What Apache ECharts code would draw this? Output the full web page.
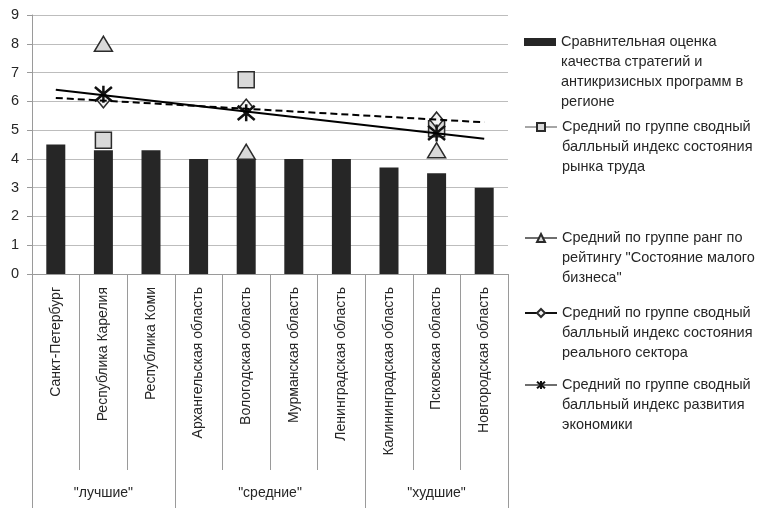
<!DOCTYPE html>
<html>
<head>
<meta charset="utf-8">
<script src="https://cdn.jsdelivr.net/npm/echarts@6/dist/echarts.min.js"></script>
<style>
  html, body { margin: 0; padding: 0; background: #fff; }
  #chart { width: 762px; height: 508px; }
</style>
</head>
<body>
<div id="chart"></div>
<script>
// Regions of the North-West federal district
const categories = [
  'Санкт-Петербург', 'Республика Карелия', 'Республика Коми',
  'Архангельская область', 'Вологодская область', 'Мурманская область',
  'Ленинградская область', 'Калининградская область', 'Псковская область',
  'Новгородская область'
];
const groups = ['"лучшие"', '"средние"', '"худшие"'];
const groupStarts = [0, 3, 7];
const groupCentres = [1.5, 5, 8.5];

const yTicks = [0, 1, 2, 3, 4, 5, 6, 7, 8, 9];

const seriesNames = [
  'Сравнительная оценка качества стратегий и антикризисных программ в регионе',
  'Средний по группе сводный балльный индекс состояния рынка труда',
  'Средний по группе ранг по рейтингу "Состояние малого бизнеса"',
  'Средний по группе сводный балльный индекс состояния реального сектора',
  'Средний по группе сводный балльный индекс развития экономики'
];
const legendLines = [
  ['Сравнительная оценка', 'качества стратегий и', 'антикризисных программ в', 'регионе'],
  ['Средний по группе сводный', 'балльный индекс состояния', 'рынка труда'],
  ['Средний по группе ранг по', 'рейтингу "Состояние малого', 'бизнеса"'],
  ['Средний по группе сводный', 'балльный индекс состояния', 'реального сектора'],
  ['Средний по группе сводный', 'балльный индекс развития', 'экономики']
];

const strategyScore   = [4.5, 4.3, 4.3, 4.0, 4.0, 4.0, 4.0, 3.7, 3.5, 3.0];
const laborIndex      = [null, 4.65, null, null, 6.75, null, null, null, 5.05, null];
const smallBizRank    = [null, 8.0,  null, null, 4.25, null, null, null, 4.3,  null];
const realSectorIndex = [null, 6.05, null, null, 5.8,  null, null, null, 5.35, null];
const econDevIndex    = [null, 6.25, null, null, 5.6,  null, null, null, 4.9,  null];

// Linear trends (end values at the first and last region)
const econDevTrend    = [6.4,  null, null, null, null, null, null, null, null, 4.7];
const realSectorTrend = [6.12, null, null, null, null, null, null, null, null, 5.27];

const FONT = 'Liberation Sans';
const TEXT = '#262626';
const LH = 20;

const starPath = 'path://M0 0 L10 10 M10 0 L0 10 M5 -1 L5 11';

// Each legend entry is its own component so the first text line sits level
// with the swatch: blank lines above the text push its first line to the
// vertical centre of the block, where the swatch is drawn.
function legendAt(idx, firstLineY, icon, itemH) {
  const lines = legendLines[idx];
  const n = lines.length;
  const blank = new Array(n - 1).fill(' ');
  return {
    data: [{ name: seriesNames[idx], icon: icon }],
    left: 524,
    top: firstLineY - (2 * n - 1) * LH / 2,
    padding: 0,
    itemWidth: 32,
    itemHeight: itemH,
    itemGap: 0,
    selectedMode: false,
    formatter: () => blank.concat(lines).join('\n'),
    textStyle: {
      fontFamily: FONT, fontSize: 14.5, color: TEXT, lineHeight: LH
    }
  };
}

const chart = echarts.init(document.getElementById('chart'), null, { renderer: 'canvas' });

chart.setOption({
  animation: false,
  backgroundColor: '#fff',
  textStyle: { fontFamily: FONT },
  grid: { left: 32, right: 254, top: 15, bottom: 234, containLabel: false },
  legend: [
    legendAt(0, 42, 'rect', 8),
    legendAt(1, 127, undefined, 10),
    legendAt(2, 238, undefined, 10),
    legendAt(3, 313, undefined, 10),
    legendAt(4, 385, undefined, 10)
  ],
  xAxis: [
    {
      type: 'category',
      data: categories,
      axisLine: { show: true, lineStyle: { color: '#9a9a9a', width: 1 } },
      axisTick: { show: true, interval: 0, length: 196, lineStyle: { color: '#9a9a9a', width: 1 } },
      axisLabel: {
        interval: 0, rotate: 90, margin: 13,
        fontFamily: FONT, fontSize: 14, color: TEXT
      },
      splitLine: { show: false }
    },
    {
      type: 'category',
      data: categories,
      position: 'bottom',
      axisLine: { show: false },
      axisLabel: { show: false },
      axisTick: {
        show: true,
        interval: (i) => groupStarts.indexOf(i) !== -1,
        length: 236,
        lineStyle: { color: '#9a9a9a', width: 1 }
      },
      splitLine: { show: false }
    },
    {
      type: 'value',
      min: 0, max: 10, interval: 0.5,
      position: 'bottom',
      axisLine: { show: false },
      axisTick: { show: false },
      splitLine: { show: false },
      axisLabel: {
        margin: 212,
        fontFamily: FONT, fontSize: 14, color: TEXT,
        formatter: (v) => {
          const k = groupCentres.indexOf(v);
          return k === -1 ? '' : groups[k];
        }
      }
    }
  ],
  yAxis: {
    type: 'value',
    min: yTicks[0], max: yTicks[yTicks.length - 1], interval: 1,
    axisLine: { show: true, lineStyle: { color: '#9a9a9a' } },
    axisTick: { show: true, length: 5, lineStyle: { color: '#9a9a9a' } },
    axisLabel: { margin: 13, fontFamily: FONT, fontSize: 14.5, color: TEXT },
    splitLine: { lineStyle: { color: '#bdbdbd', width: 1 } }
  },
  series: [
    {
      name: seriesNames[0],
      type: 'bar',
      data: strategyScore,
      barWidth: 19,
      itemStyle: { color: '#262626' },
      z: 2
    },
    {
      name: seriesNames[1],
      type: 'line',
      data: laborIndex,
      symbol: 'rect',
      symbolSize: 16,
      lineStyle: { color: '#a6a6a6', width: 2.5 },
      itemStyle: { color: '#d9d9d9', borderColor: '#2b2b2b', borderWidth: 1.5 },
      z: 3
    },
    {
      name: seriesNames[2],
      type: 'line',
      data: smallBizRank,
      symbol: 'triangle',
      symbolSize: [18, 15],
      lineStyle: { color: '#6e6e6e', width: 2.5 },
      itemStyle: { color: '#d9d9d9', borderColor: '#2b2b2b', borderWidth: 1.5 },
      z: 3
    },
    {
      name: seriesNames[3],
      type: 'line',
      data: realSectorIndex,
      symbol: 'diamond',
      symbolSize: [13, 16],
      lineStyle: { color: '#111', width: 2.5 },
      itemStyle: { color: '#f4f4f4', borderColor: '#2b2b2b', borderWidth: 1.5 },
      z: 4
    },
    {
      name: seriesNames[4],
      type: 'line',
      data: econDevIndex,
      symbol: starPath,
      symbolSize: 17,
      lineStyle: { color: '#6e6e6e', width: 2.5 },
      itemStyle: { color: 'rgba(0,0,0,0)', borderColor: '#111', borderWidth: 2.5 },
      z: 5
    },
    {
      name: 'trend-econ',
      type: 'line',
      data: econDevTrend,
      connectNulls: true,
      symbol: 'none',
      silent: true,
      lineStyle: { color: '#000', width: 2 },
      z: 6
    },
    {
      name: 'trend-real',
      type: 'line',
      data: realSectorTrend,
      connectNulls: true,
      symbol: 'none',
      silent: true,
      lineStyle: { color: '#000', width: 2, type: [7, 4] },
      z: 6
    }
  ]
});
</script>
</body>
</html>
